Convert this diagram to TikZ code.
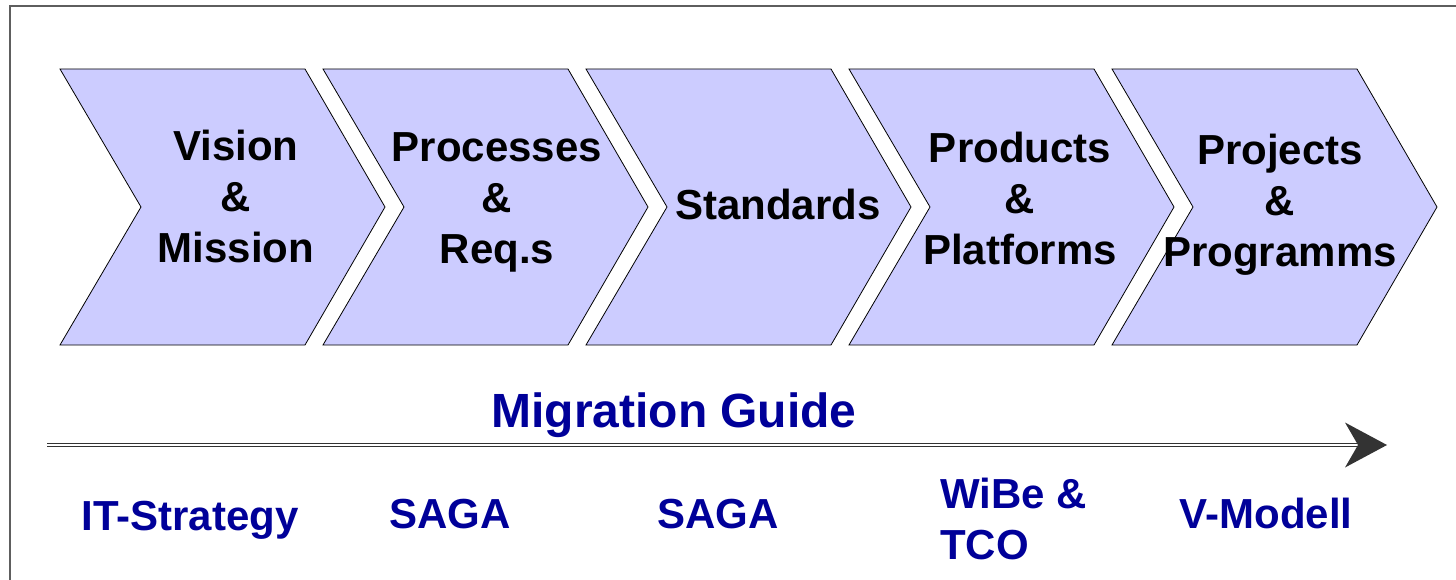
\documentclass[tikz,border=0pt]{standalone}
\usepackage{fontspec}
\setmainfont{Liberation Sans}
\definecolor{chevfill}{HTML}{CCCCFF}
\definecolor{labblue}{HTML}{000099}
\definecolor{framegray}{HTML}{5E5E5E}
\definecolor{arrowgray}{HTML}{333333}
\begin{document}
\begin{tikzpicture}[x=1pt,y=-1pt,
  chevron/.style={fill=chevfill, draw=black, line width=0.8pt, line join=miter},
  chevlabel/.style={anchor=base, inner sep=0pt, font=\fontsize{42}{51}\selectfont\bfseries, text=black},
  bluelabel/.style={anchor=base, inner sep=0pt, font=\fontsize{42}{51}\selectfont\bfseries, text=labblue},
  titlelabel/.style={anchor=base, inner sep=0pt, font=\fontsize{48}{56}\selectfont\bfseries, text=labblue},
  guideline/.style={draw=arrowgray, line width=1.1pt, double=white, double distance=1.4pt},
]
\useasboundingbox (0,0) rectangle (1456,580);
% frame
\draw[framegray, line width=2.2pt] (10,600) -- (10,6) -- (1470,6);
% chevrons
\foreach \x in {60,323,586,849,1112} {
  \draw[chevron] (\x,69) -- ++(245,0) -- ++(80,138) -- ++(-80,138) -- ++(-245,0) -- ++(81,-138) -- cycle;
}
% chevron labels
\node[chevlabel] (vision) at (236,161) {\begin{tabular}[t]{@{}c@{}}Vision\\\&\\Mission\end{tabular}};
\node[chevlabel] (processes) at (497,162) {\begin{tabular}[t]{@{}c@{}}Processes\\\&\\Req.s\end{tabular}};
\node[chevlabel] (standards) at (778,220) {Standards};
\node[chevlabel] (products) at (1020,163) {\begin{tabular}[t]{@{}c@{}}Products\\\&\\Platforms\end{tabular}};
\node[chevlabel] (projects) at (1280,165) {\begin{tabular}[t]{@{}c@{}}Projects\\\&\\Programms\end{tabular}};
% migration guide
\node[titlelabel] (guide) at (674,427) {Migration Guide};
\coordinate (arrS) at (47,445);
\coordinate (arrE) at (1365,445);
\coordinate (arrT) at (1387,445);
\draw[guideline] (arrS) -- (arrE);
\fill[arrowgray] (arrT) -- ++(-42,-22.5) -- ++(13,22.5) -- ++(-13,22.5) -- cycle;
% bottom labels
\node[bluelabel] (itstrat) at (190,530) {IT-Strategy};
\node[bluelabel] (saga1) at (450,528) {SAGA};
\node[bluelabel] (saga2) at (718,528) {SAGA};
\node[bluelabel, anchor=base west] (wibe) at (940,508) {\begin{tabular}[t]{@{}l@{}}WiBe \&\\TCO\end{tabular}};
\node[bluelabel] (vmodell) at (1266,528) {V-Modell};
\end{tikzpicture}
\end{document}
